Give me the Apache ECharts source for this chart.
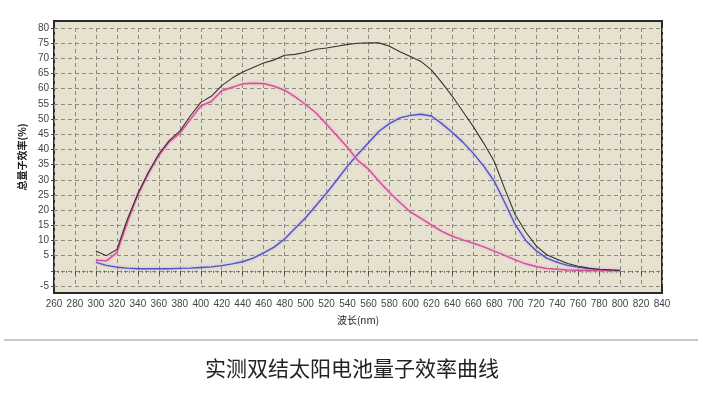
<!DOCTYPE html>
<html>
<head>
<meta charset="utf-8">
<script src="https://cdn.jsdelivr.net/npm/echarts@6/dist/echarts.min.js"></script>
<style>
  html, body { margin: 0; padding: 0; background: #fff; }
  #chart { width: 703px; height: 413px; }
</style>
</head>
<body>
<div id="chart"></div>
<script>
// Wavelength samples (nm)
const wavelengths = [
  300, 310, 320, 330, 340, 350, 360, 370, 380, 390,
  400, 410, 420, 430, 440, 450, 460, 470, 480, 490,
  500, 510, 520, 530, 540, 550, 560, 570, 580, 590,
  600, 610, 620, 630, 640, 650, 660, 670, 680, 690,
  700, 710, 720, 730, 740, 750, 760, 770, 780, 790, 800
];

// Total quantum efficiency (%), black
const totalQE = [
  6.5, 5.0, 7.0, 17, 25.5, 32.5, 38.5, 43, 46, 51,
  55.5, 57.5, 61, 63.5, 65.5, 67, 68.5, 69.5, 71, 71.3,
  72, 73, 73.4, 74, 74.6, 75, 75.1, 75.1, 74, 72.2,
  70.6, 69, 66.2, 62, 57.5, 52.5, 47.5, 42, 36, 27,
  18.5, 12.8, 8.2, 5.3, 3.8, 2.4, 1.5, 0.9, 0.5, 0.3, 0.1
];

// Top cell quantum efficiency (%), pink
const topQE = [
  3.5, 3.3, 6, 16, 25, 32, 38, 42.5, 45.3, 49.8,
  54.3, 55.8, 59.3, 60.5, 61.6, 61.8, 61.7, 60.8, 59.5, 57.3,
  54.8, 52, 48.3, 44.5, 40.6, 36.3, 33.5, 29.5, 25.8, 22.5,
  19.4, 17.3, 15.1, 13, 11.4, 10.2, 9.1, 7.9, 6.5, 5.1,
  3.6, 2.3, 1.4, 0.8, 0.5, 0.3, 0.2, 0.1, 0.1, 0.1, 0.1
];

// Bottom cell quantum efficiency (%), blue
const bottomQE = [
  2.8, 1.8, 1.2, 0.9, 0.7, 0.7, 0.7, 0.7, 0.8, 0.9,
  1.1, 1.3, 1.7, 2.3, 3.0, 4.2, 5.9, 7.8, 10.5, 14,
  17.5, 21.5, 25.6, 30, 34.5, 38.5, 42.2, 46, 48.5, 50.4,
  51.2, 51.6, 51, 48.5, 45.6, 42.4, 38.7, 34.5, 29.5, 22.5,
  15.2, 10, 6.6, 4.2, 2.8, 1.8, 1.2, 0.7, 0.4, 0.2, 0.1
];

const xAxisName = '波长(nm)';
const yAxisName = '总量子效率(%)';
const caption = '实测双结太阳电池量子效率曲线';

function pairs(values) {
  return wavelengths.map((w, i) => [w, values[i]]);
}

const chart = echarts.init(document.getElementById('chart'));

const gridLine = { show: true, lineStyle: { color: '#8c8a80', width: 1, type: [4, 3] } };
const labelFont = { fontFamily: 'Liberation Sans Narrow, Liberation Sans', fontSize: 10, color: '#444' };

const option = {
  animation: false,
  backgroundColor: '#fff',
  grid: { left: 54, right: 41, top: 28, bottom: 127 },
  xAxis: {
    type: 'value',
    min: 260,
    max: 840,
    interval: 20,
    offset: 7,
    name: xAxisName,
    nameLocation: 'middle',
    nameGap: 22,
    nameTextStyle: { fontFamily: 'Noto Sans CJK SC', fontSize: 10, color: '#222' },
    axisLine: { show: false },
    axisTick: { show: true, length: 4, lineStyle: { color: '#444' } },
    minorTick: { show: true, splitNumber: 5, length: 2, lineStyle: { color: '#666' } },
    axisLabel: Object.assign({ margin: 6 }, labelFont),
    splitLine: gridLine
  },
  yAxis: {
    type: 'value',
    min: -5,
    max: 80,
    interval: 5,
    name: yAxisName,
    nameLocation: 'middle',
    nameGap: 27,
    nameRotate: 90,
    nameTextStyle: { fontFamily: 'Noto Sans CJK SC', fontSize: 10, fontWeight: 'bold', color: '#222' },
    axisLine: { show: false },
    axisTick: { show: true, length: 3, lineStyle: { color: '#444' } },
    axisLabel: Object.assign({
      margin: 5,
      formatter: v => (v === 0 ? '' : String(v))
    }, labelFont),
    splitLine: gridLine
  },
  graphic: [
    {
      type: 'rect',
      z: -1,
      shape: { x: 54, y: 21, width: 608, height: 272 },
      style: { fill: '#e6e2cf', stroke: '#2a2a2a', lineWidth: 2 }
    },
    {
      type: 'line',
      shape: { x1: 4, y1: 340, x2: 698, y2: 340 },
      style: { stroke: '#c9c9c2', lineWidth: 2 }
    },
    {
      type: 'text',
      x: 352,
      y: 368,
      style: {
        text: caption,
        fontFamily: 'Noto Sans CJK SC',
        fontSize: 21,
        fill: '#222',
        textAlign: 'center',
        textVerticalAlign: 'middle'
      }
    }
  ],
  series: [
    {
      type: 'line',
      data: pairs(bottomQE),
      showSymbol: false,
      lineStyle: { color: '#5650c2', width: 1.4, shadowColor: 'rgba(170,170,240,0.9)', shadowBlur: 3 }
    },
    {
      type: 'line',
      data: pairs(topQE),
      showSymbol: false,
      lineStyle: { color: '#d6509a', width: 1.5, shadowColor: 'rgba(245,160,205,0.9)', shadowBlur: 3 }
    },
    {
      type: 'line',
      data: pairs(totalQE),
      showSymbol: false,
      lineStyle: { color: '#333', width: 1.1 }
    }
  ]
};

chart.setOption(option);
</script>
</body>
</html>
